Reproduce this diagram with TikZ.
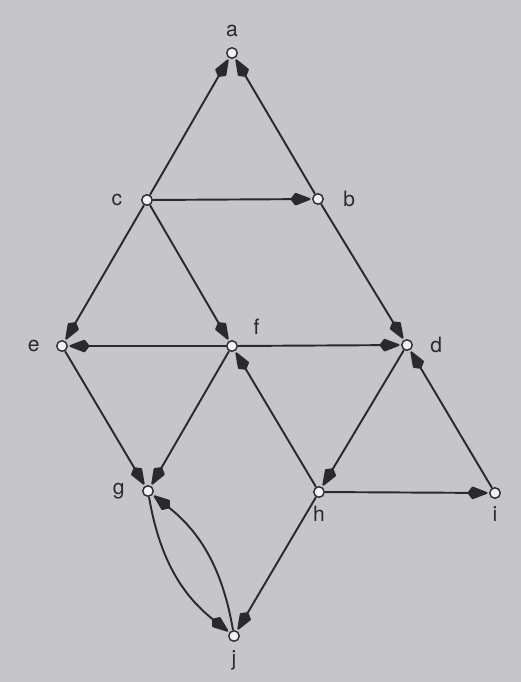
\documentclass[tikz,border=0pt]{standalone}
\usepackage{fontspec}
\setmainfont{TeX Gyre Heros}
\usepackage{tikz}
\usetikzlibrary{arrows.meta, positioning}
\definecolor{pagegray}{HTML}{C6C6CA}
\definecolor{inkgray}{HTML}{2A2A2C}
\definecolor{dotwhite}{HTML}{F2F2F2}

\begin{document}
\begin{tikzpicture}[
  vtx/.style={circle, draw=inkgray, fill=dotwhite, line width=0.8pt,
              minimum size=0.21cm, inner sep=0pt},
  lbl/.style={font=\fontsize{12}{14}\selectfont, text=inkgray, inner sep=0pt},
  arr/.style={-{Kite[length=0.44cm, width=0.26cm, inset=0.1cm, round]},
              inkgray, line width=1.1pt, shorten >=0.03cm},
]
  \fill[pagegray] (0,0) rectangle (10.42,-13.64);
  \useasboundingbox (0,0) rectangle (10.42,-13.64);

  \node[vtx, label={[lbl, label distance=0.19cm]above:a}] (a) at (4.64,-1.06) {};
  \node[vtx, label={[lbl, label distance=0.37cm]left:c}]  (c) at (2.94,-4.00) {};
  \node[vtx, label={[lbl, label distance=0.38cm]right:b}] (b) at (6.36,-3.98) {};
  \node[vtx, label={[lbl, label distance=0.32cm]left:e}]  (e) at (1.24,-6.92) {};
  \node[vtx, label={[lbl, label distance=0.36cm]28:f}]    (f) at (4.64,-6.92) {};
  \node[vtx, label={[lbl, label distance=0.34cm]right:d}] (d) at (8.14,-6.90) {};
  \node[vtx, label={[lbl, label distance=0.34cm]left:g}]  (g) at (2.96,-9.82) {};
  \node[vtx, label={[lbl, label distance=0.16cm]below:h}] (h) at (6.38,-9.84) {};
  \node[vtx, label={[lbl, label distance=0.14cm]below:i}] (i) at (9.90,-9.86) {};
  \node[vtx, label={[lbl, label distance=0.16cm]below:j}] (j) at (4.68,-12.72) {};

  \draw[arr] (c)--(a);
  \draw[arr] (b)--(a);
  \draw[arr] (c)--(b);
  \draw[arr] (c)--(e);
  \draw[arr] (c)--(f);
  \draw[arr] (b)--(d);
  \draw[arr] (f)--(e);
  \draw[arr] (f)--(d);
  \draw[arr] (e)--(g);
  \draw[arr] (f)--(g);
  \draw[arr] (h)--(f);
  \draw[arr] (d)--(h);
  \draw[arr] (i)--(d);
  \draw[arr] (h)--(i);
  \draw[arr] (h)--(j);

  % double link between g and j
  \draw[arr] (g) to[bend right=21] (j);
  \draw[arr] (j) to[bend right=21] (g);
\end{tikzpicture}
\end{document}
